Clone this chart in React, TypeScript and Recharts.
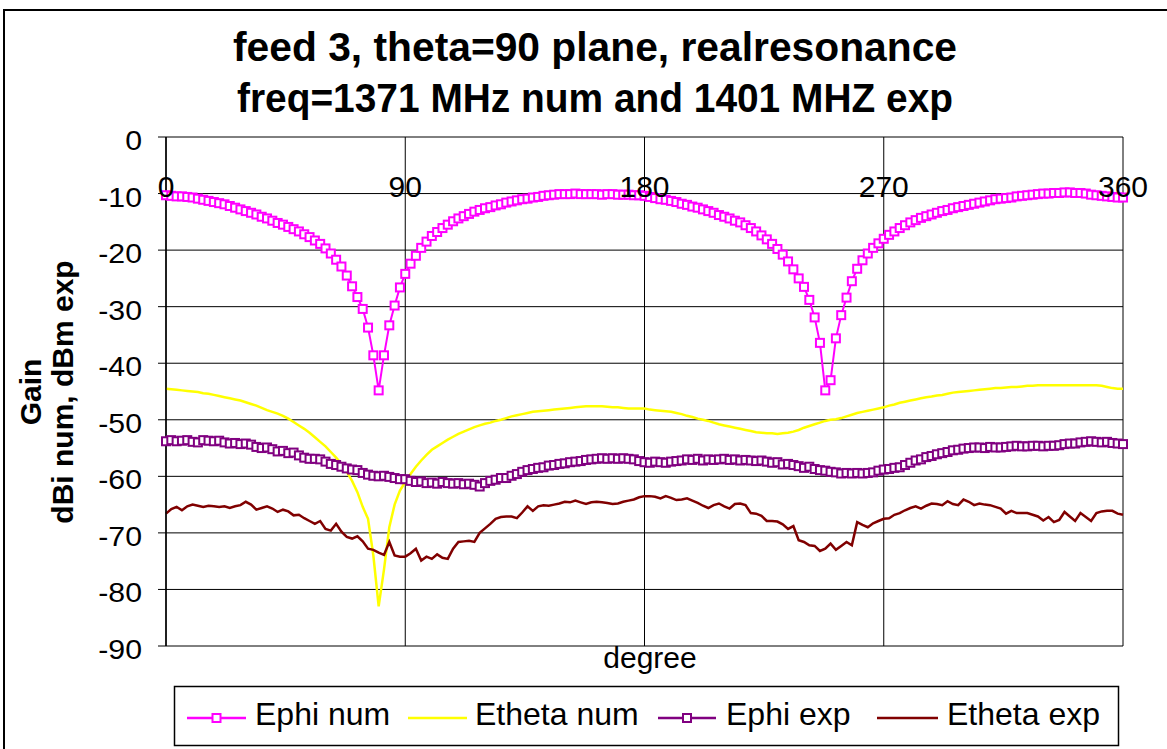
import React from 'react';
import { LineChart, Line, XAxis, YAxis, CartesianGrid } from 'recharts';

const DEGREES = [
  0, 2, 4, 6, 8, 10, 12, 14, 16, 18,
  20, 22, 24, 26, 28, 30, 32, 34, 36, 38,
  40, 42, 44, 46, 48, 50, 52, 54, 56, 58,
  60, 62, 64, 66, 68, 70, 72, 74, 76, 78,
  80, 82, 84, 86, 88, 90, 92, 94, 96, 98,
  100, 102, 104, 106, 108, 110, 112, 114, 116, 118,
  120, 122, 124, 126, 128, 130, 132, 134, 136, 138,
  140, 142, 144, 146, 148, 150, 152, 154, 156, 158,
  160, 162, 164, 166, 168, 170, 172, 174, 176, 178,
  180, 182, 184, 186, 188, 190, 192, 194, 196, 198,
  200, 202, 204, 206, 208, 210, 212, 214, 216, 218,
  220, 222, 224, 226, 228, 230, 232, 234, 236, 238,
  240, 242, 244, 246, 248, 250, 252, 254, 256, 258,
  260, 262, 264, 266, 268, 270, 272, 274, 276, 278,
  280, 282, 284, 286, 288, 290, 292, 294, 296, 298,
  300, 302, 304, 306, 308, 310, 312, 314, 316, 318,
  320, 322, 324, 326, 328, 330, 332, 334, 336, 338,
  340, 342, 344, 346, 348, 350, 352, 354, 356, 358,
  360,
];

const EPHI_NUM = [
  -10.3, -10.4, -10.5, -10.5, -10.6, -10.7, -10.9, -11.1, -11.3, -11.5,
  -11.7, -11.9, -12.2, -12.5, -12.8, -13.1, -13.4, -13.7, -14.1, -14.4,
  -14.8, -15.2, -15.5, -15.9, -16.3, -16.7, -17.2, -17.7, -18.3, -18.9,
  -19.7, -20.6, -21.7, -22.9, -24.5, -26.4, -28.3, -30.4, -33.7, -38.6,
  -44.8, -38.6, -33.3, -29.8, -26.6, -24.2, -22.4, -21.0, -19.6, -18.5,
  -17.5, -16.8, -16.1, -15.5, -14.9, -14.4, -14.0, -13.6, -13.2, -12.9,
  -12.6, -12.4, -12.1, -11.9, -11.6, -11.4, -11.2, -11.0, -10.9, -10.7,
  -10.6, -10.4, -10.3, -10.2, -10.1, -10.1, -10.1, -10.0, -10.1, -10.1,
  -10.1, -10.1, -10.2, -10.1, -10.1, -10.2, -10.2, -10.2, -10.3, -10.3,
  -10.4, -10.6, -10.8, -11.0, -11.1, -11.3, -11.5, -11.8, -12.0, -12.3,
  -12.5, -12.8, -13.1, -13.4, -13.8, -14.1, -14.4, -14.8, -15.1, -15.6,
  -16.1, -16.7, -17.4, -18.1, -18.9, -19.8, -20.8, -22.0, -23.4, -25.0,
  -26.5, -28.8, -31.9, -36.4, -44.8, -43.0, -35.6, -31.5, -28.4, -25.5,
  -23.3, -21.8, -20.6, -19.6, -18.8, -18.0, -17.3, -16.7, -16.1, -15.6,
  -15.1, -14.7, -14.3, -14.0, -13.7, -13.4, -13.1, -12.9, -12.6, -12.4,
  -12.2, -12.0, -11.8, -11.6, -11.4, -11.2, -11.0, -10.9, -10.8, -10.7,
  -10.5, -10.4, -10.3, -10.2, -10.1, -10.0, -10.0, -9.9, -9.9, -9.8,
  -9.8, -9.9, -9.9, -10.0, -10.2, -10.3, -10.4, -10.5, -10.6, -10.7,
  -10.7,
];

const ETHETA_NUM = [
  -44.5, -44.6, -44.7, -44.8, -44.9, -45.0, -45.1, -45.3, -45.4, -45.6,
  -45.8, -46.0, -46.2, -46.4, -46.6, -46.9, -47.2, -47.5, -47.9, -48.3,
  -48.6, -48.9, -49.3, -49.8, -50.4, -51.0, -51.6, -52.3, -53.1, -53.9,
  -54.7, -55.7, -56.7, -57.8, -59.2, -60.8, -62.8, -65.4, -67.5, -74.0,
  -83.0, -76.5, -69.0, -65.0, -62.5, -61.0, -59.6, -58.3, -57.2, -56.2,
  -55.3, -54.7, -54.1, -53.5, -53.0, -52.5, -52.1, -51.7, -51.3, -51.0,
  -50.7, -50.5, -50.2, -50.0, -49.7, -49.4, -49.2, -49.0, -48.8, -48.6,
  -48.5, -48.4, -48.3, -48.2, -48.1, -48.0, -47.9, -47.8, -47.7, -47.6,
  -47.6, -47.6, -47.6, -47.7, -47.8, -47.8, -47.9, -48.0, -48.0, -48.0,
  -48.0, -48.2, -48.3, -48.4, -48.5, -48.6, -48.8, -49.0, -49.3, -49.5,
  -49.8, -50.0, -50.2, -50.5, -50.8, -51.0, -51.2, -51.4, -51.6, -51.8,
  -52.0, -52.2, -52.3, -52.4, -52.4, -52.5, -52.4, -52.3, -52.1, -51.8,
  -51.4, -51.1, -50.8, -50.5, -50.2, -50.0, -49.9, -49.7, -49.4, -49.1,
  -48.8, -48.6, -48.4, -48.2, -48.0, -47.8, -47.5, -47.3, -47.0, -46.8,
  -46.6, -46.4, -46.2, -46.0, -45.9, -45.7, -45.6, -45.4, -45.2, -45.1,
  -45.0, -44.9, -44.8, -44.7, -44.6, -44.5, -44.4, -44.4, -44.3, -44.2,
  -44.2, -44.1, -44.0, -44.0, -43.9, -43.9, -43.9, -43.9, -43.9, -43.9,
  -43.9, -43.9, -43.9, -43.9, -43.9, -43.9, -44.0, -44.2, -44.4, -44.5,
  -44.5,
];

const EPHI_EXP = [
  -53.8, -53.6, -53.8, -53.7, -53.6, -53.9, -54.0, -53.6, -53.7, -53.8,
  -53.7, -54.0, -54.2, -54.1, -54.3, -54.2, -54.4, -54.8, -55.0, -54.9,
  -55.2, -55.6, -55.5, -55.9, -55.8, -56.3, -56.7, -56.9, -56.9, -57.0,
  -57.4, -57.8, -58.0, -58.3, -58.6, -58.8, -58.9, -59.4, -59.7, -59.9,
  -60.0, -59.9, -60.1, -60.3, -60.5, -60.5, -60.8, -61.0, -60.9, -61.2,
  -61.1, -61.3, -61.0, -61.2, -61.3, -61.2, -61.4, -61.3, -61.5, -61.8,
  -61.2, -60.8, -60.6, -60.3, -60.3, -59.9, -59.6, -59.2, -58.9, -58.7,
  -58.5, -58.4, -58.1, -58.0, -57.8, -57.7, -57.5, -57.4, -57.3, -57.1,
  -57.0, -56.9, -56.8, -56.9, -56.8, -56.9, -56.8, -56.9, -57.0, -57.3,
  -57.5, -57.6, -57.4, -57.5, -57.6, -57.4, -57.3, -57.2, -57.0, -57.1,
  -56.9, -57.2, -57.0, -57.1, -57.0, -56.9, -57.1, -57.0, -57.2, -57.1,
  -57.2, -57.3, -57.2, -57.4, -57.6, -57.5, -57.9, -57.8, -58.0, -58.2,
  -58.5, -58.3, -58.7, -58.9, -59.0, -59.2, -59.3, -59.5, -59.4, -59.5,
  -59.4, -59.5, -59.4, -59.3, -59.0, -58.8, -58.7, -58.5, -58.4, -58.0,
  -57.6, -57.2, -57.0, -56.6, -56.4, -56.1, -55.9, -55.7, -55.4, -55.3,
  -55.1, -55.0, -54.9, -54.9, -55.0, -54.8, -54.9, -54.9, -54.8, -54.7,
  -54.6, -54.7, -54.7, -54.6, -54.6, -54.7, -54.6, -54.6, -54.5, -54.3,
  -54.2, -54.2, -54.0, -53.9, -53.8, -53.9, -54.0, -53.9, -54.1, -54.2,
  -54.3,
];

const ETHETA_EXP = [
  -66.6, -65.8, -65.4, -66.0, -65.3, -65.0, -65.2, -65.4, -65.2, -65.3,
  -65.4, -65.3, -65.6, -65.3, -65.1, -64.5, -65.0, -65.9, -65.6, -65.3,
  -65.7, -66.3, -65.9, -66.2, -66.9, -66.8, -67.4, -67.9, -68.4, -67.9,
  -69.3, -69.6, -68.4, -69.8, -70.7, -71.0, -70.6, -71.5, -72.8, -73.0,
  -73.5, -73.9, -71.6, -74.0, -74.2, -74.2, -73.6, -72.8, -74.9, -74.2,
  -74.6, -73.8, -74.4, -74.6, -72.8, -71.6, -71.5, -71.4, -71.6, -70.0,
  -69.2, -68.4, -67.5, -67.2, -67.1, -67.1, -67.4, -66.4, -65.3, -66.1,
  -65.3, -65.1, -65.2, -65.0, -64.8, -64.5, -64.6, -64.3, -64.6, -64.9,
  -64.6, -64.5, -64.6, -64.7, -64.9, -64.8, -64.5, -64.3, -64.1, -63.7,
  -63.5, -63.5, -63.6, -63.9, -63.5, -63.8, -64.2, -64.1, -63.9, -64.3,
  -64.7, -65.2, -65.6, -65.1, -64.8, -65.3, -65.7, -64.9, -64.8, -65.1,
  -66.5, -66.6, -67.0, -67.9, -67.9, -68.0, -68.5, -69.3, -68.8, -71.3,
  -71.6, -72.2, -72.3, -73.2, -72.8, -71.9, -73.0, -72.3, -71.6, -72.2,
  -68.1, -68.6, -69.0, -68.3, -67.9, -67.5, -67.4, -66.8, -66.5, -66.0,
  -65.6, -65.3, -65.7, -65.2, -64.8, -64.9, -65.1, -64.4, -64.9, -65.1,
  -64.1, -64.5, -65.1, -64.8, -65.0, -65.1, -65.4, -65.7, -66.6, -66.1,
  -66.5, -66.5, -66.5, -66.8, -67.1, -67.8, -67.2, -68.1, -67.7, -66.3,
  -67.1, -67.9, -66.5, -67.2, -67.9, -66.5, -66.2, -66.1, -66.1, -66.6,
  -66.8,
];

const X_TICKS = [0, 90, 180, 270, 360];
const Y_TICKS = [0, -10, -20, -30, -40, -50, -60, -70, -80, -90];
const X_LABEL_LEVEL = -10;

const TITLE_LINES = ['feed 3, theta=90 plane, realresonance', 'freq=1371 MHz num and 1401 MHZ exp'];
const Y_TITLE_LINES = ['Gain', 'dBi num, dBm exp'];
const X_TITLE = 'degree';

const SERIES = [
  { key: 'ephiNum', name: 'Ephi num', color: '#FF00FF', marker: true },
  { key: 'ethetaNum', name: 'Etheta num', color: '#FFFF00', marker: false },
  { key: 'ephiExp', name: 'Ephi exp', color: '#800080', marker: true },
  { key: 'ethetaExp', name: 'Etheta exp', color: '#800000', marker: false },
];

const rows = DEGREES.map((d, i) => ({
  deg: d,
  ephiNum: EPHI_NUM[i],
  ethetaNum: ETHETA_NUM[i],
  ephiExp: EPHI_EXP[i],
  ethetaExp: ETHETA_EXP[i],
}));

const W = 1167;
const H = 749;
const PLOT_LEFT = 166;
const PLOT_RIGHT = 1123;
const PLOT_TOP = 137;
const PLOT_BOTTOM = 646;
const Y_AXIS_W = 60;
const X_AXIS_H = 20;
const FONT = 'Arial, "Liberation Sans", sans-serif';
const MK = 8;

const makeSquare = (color: string) => (props: any) => {
  const { cx, cy, index } = props;
  if (cx == null || cy == null) return <g key={index} />;
  return (
    <rect key={index} x={cx - MK / 2} y={cy - MK / 2} width={MK} height={MK} fill="#fff" stroke={color} strokeWidth={2} />
  );
};

const XTick = (props: any) => {
  const { x, payload } = props;
  const yLine = PLOT_TOP + ((0 - X_LABEL_LEVEL) / 90) * (PLOT_BOTTOM - PLOT_TOP);
  return (
    <text x={x} y={yLine + 3} textAnchor="middle" fontSize={30} fontFamily={FONT} fill="#000">
      {payload.value}
    </text>
  );
};

const YTick = (props: any) => {
  const { x, y, payload } = props;
  return (
    <g transform={`translate(${x},${y + 3}) scale(1.08,1)`}>
      <text x={0} y={0} dy="0.355em" textAnchor="end" fontSize={28} fontFamily={FONT} fill="#000">
        {payload.value}
      </text>
    </g>
  );
};

const LEGEND_ITEMS = [
  { lineX: 187, lineW: 59, textX: 255 },
  { lineX: 408, lineW: 59, textX: 475 },
  { lineX: 658, lineW: 58, textX: 726 },
  { lineX: 877, lineW: 61, textX: 947 },
];

export default function App() {
  return (
    <div style={{ position: 'absolute', left: 0, top: 0, width: W, height: H, background: '#fff', overflow: 'hidden' }}>
      <div
        style={{
          position: 'absolute',
          left: 3,
          top: 9,
          width: W + 20,
          height: H + 20,
          borderLeft: '2px solid #000',
          borderTop: '2px solid #000',
          boxSizing: 'border-box',
        }}
      />
      <div style={{ position: 'absolute', left: 0, top: 0 }}>
        <LineChart
          width={W}
          height={H}
          data={rows}
          margin={{ top: PLOT_TOP, right: W - PLOT_RIGHT, bottom: H - PLOT_BOTTOM - X_AXIS_H, left: PLOT_LEFT - Y_AXIS_W }}
        >
          <CartesianGrid stroke="#000" strokeWidth={1} />
          <XAxis
            dataKey="deg"
            type="number"
            domain={[0, 360]}
            ticks={X_TICKS}
            height={X_AXIS_H}
            axisLine={false}
            tickLine={false}
            tick={<XTick />}
            interval={0}
          />
          <YAxis
            type="number"
            domain={[-90, 0]}
            ticks={Y_TICKS}
            width={Y_AXIS_W}
            axisLine={{ stroke: '#000', strokeWidth: 1.5 }}
            tickLine={{ stroke: '#000', strokeWidth: 1 }}
            tickSize={8}
            tickMargin={16}
            tick={<YTick />}
            interval={0}
          />
          {SERIES.map((s) => (
            <Line
              key={s.key}
              dataKey={s.key}
              name={s.name}
              type="linear"
              stroke={s.color}
              strokeWidth={s.marker ? 2 : 2.5}
              dot={s.marker ? makeSquare(s.color) : false}
              activeDot={false}
              isAnimationActive={false}
            />
          ))}
        </LineChart>
      </div>
      <svg width={W} height={H} style={{ position: 'absolute', left: 0, top: 0, pointerEvents: 'none' }}>
        {TITLE_LINES.map((t, i) => (
          <text
            key={t}
            x={595}
            y={61 + i * 51}
            textAnchor="middle"
            fontSize={40}
            fontWeight="bold"
            fontFamily={FONT}
            fill="#000"
            textLength={i === 0 ? 724 : 716}
            lengthAdjust="spacingAndGlyphs"
          >
            {t}
          </text>
        ))}
        {Y_TITLE_LINES.map((t, i) => (
          <text
            key={t}
            transform={`translate(${41 + i * 32},${392}) rotate(-90)`}
            x={0}
            y={0}
            textAnchor="middle"
            fontSize={30}
            fontWeight="bold"
            fontFamily={FONT}
            fill="#000"
          >
            {t}
          </text>
        ))}
        <text x={650} y={668} textAnchor="middle" fontSize={30} fontFamily={FONT} fill="#000">
          {X_TITLE}
        </text>
        <rect x={174.5} y={686.5} width={944} height={59} fill="#fff" stroke="#000" strokeWidth={1.5} />
        {SERIES.map((s, i) => {
          const it = LEGEND_ITEMS[i];
          const cy = 718;
          return (
            <g key={s.key}>
              <line x1={it.lineX} x2={it.lineX + it.lineW} y1={cy} y2={cy} stroke={s.color} strokeWidth={2.5} />
              {s.marker && (
                <rect
                  x={it.lineX + it.lineW / 2 - MK / 2}
                  y={cy - MK / 2}
                  width={MK}
                  height={MK}
                  fill="#fff"
                  stroke={s.color}
                  strokeWidth={2}
                />
              )}
              <text x={it.textX} y={725} fontSize={32} fontFamily={FONT} fill="#000">
                {s.name}
              </text>
            </g>
          );
        })}
      </svg>
    </div>
  );
}
